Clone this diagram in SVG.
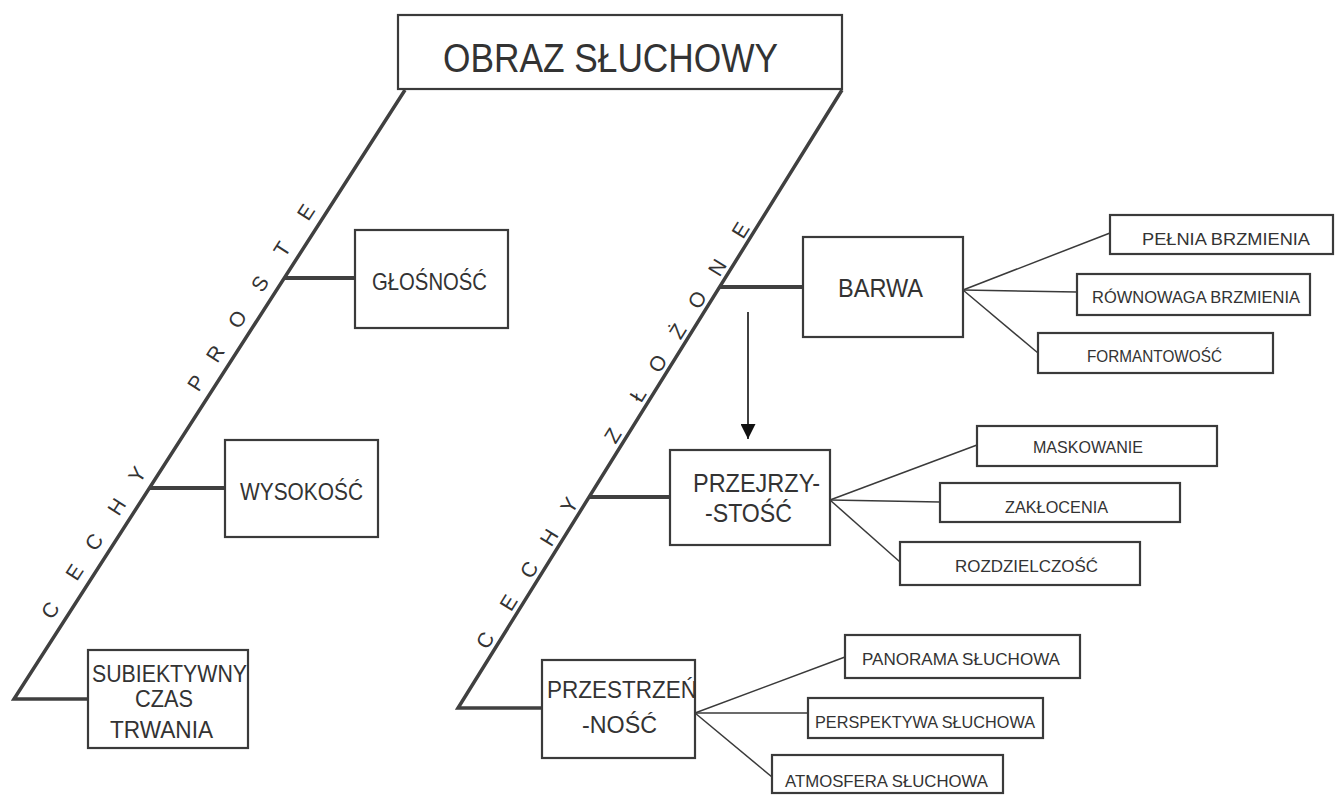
<svg xmlns="http://www.w3.org/2000/svg" width="1335" height="795" viewBox="0 0 1335 795">
<defs>
<style>
.box{fill:none;stroke:#3a3a3a;stroke-width:2.2}
.lbl{font-family:"Liberation Sans",Arial,sans-serif;fill:#333;text-anchor:middle}
.big{font-size:40px}
.mid{font-size:24px}
.sm{font-size:17px}
.diag{fill:none;stroke:#404040;stroke-width:3.5;stroke-linejoin:miter}
.stub{fill:none;stroke:#404040;stroke-width:4}
.fan{fill:none;stroke:#3a3a3a;stroke-width:1.5}
.arrow{fill:none;stroke:#111;stroke-width:1.6}
.dl{font-family:"Liberation Sans",Arial,sans-serif;font-size:21px;fill:#333;text-anchor:middle}
</style>
<marker id="ah" viewBox="0 0 14 14" refX="14" refY="7" markerWidth="15" markerHeight="15" markerUnits="userSpaceOnUse" orient="auto">
<path d="M0,0 L14,7 L0,14 z" fill="#111"/>
</marker>
</defs>
<rect width="1335" height="795" fill="#ffffff"/>

<g id="connectors">
<polyline class="diag" points="405,90 14,699 88,699"/>
<polyline class="diag" points="842,90 458,708 542,708"/>
<line class="stub" x1="284" y1="278" x2="355" y2="278"/>
<line class="stub" x1="149" y1="488" x2="225" y2="488"/>
<line class="stub" x1="720" y1="287" x2="803" y2="287"/>
<line class="stub" x1="590" y1="497" x2="670" y2="497"/>
<line class="arrow" x1="748" y1="312" x2="748" y2="439" marker-end="url(#ah)"/>
<line class="fan" x1="963" y1="290" x2="1110" y2="233"/>
<line class="fan" x1="963" y1="290" x2="1077" y2="292"/>
<line class="fan" x1="963" y1="290" x2="1038" y2="353"/>
<line class="fan" x1="830" y1="500" x2="977" y2="445"/>
<line class="fan" x1="830" y1="500" x2="940" y2="502"/>
<line class="fan" x1="830" y1="500" x2="900" y2="562"/>
<line class="fan" x1="695" y1="713" x2="845" y2="657"/>
<line class="fan" x1="695" y1="713" x2="808" y2="713"/>
<line class="fan" x1="695" y1="713" x2="772" y2="777"/>
</g>

<g id="diagonal-labels">
<text class="dl" transform="translate(50,610) rotate(-57.26)" x="0 45 81 123 161 270 305 346 388 429 473" y="7.5">CECHYPROSTE</text>
<text class="dl" transform="translate(485,640) rotate(-58.08)" x="0 44 83 121 159 241 289 326 364 401 439 483" y="7.5">CECHYZŁOŻONE</text>
</g>

<g id="obraz">
<rect class="box" x="398" y="15" width="444" height="74"/>
<text class="lbl big" x="610.5" y="72" textLength="335" lengthAdjust="spacingAndGlyphs">OBRAZ SŁUCHOWY</text>
</g>

<g id="glosnosc">
<rect class="box" x="355" y="230" width="153" height="98"/>
<text class="lbl mid" x="429.5" y="290" textLength="115" lengthAdjust="spacingAndGlyphs">GŁOŚNOŚĆ</text>
</g>

<g id="wysokosc">
<rect class="box" x="225" y="440" width="153" height="97"/>
<text class="lbl mid" x="301.5" y="500" textLength="123" lengthAdjust="spacingAndGlyphs">WYSOKOŚĆ</text>
</g>

<g id="subiektywny">
<rect class="box" x="88" y="650" width="160" height="98"/>
<text class="lbl mid" x="169.5" y="682" textLength="155" lengthAdjust="spacingAndGlyphs">SUBIEKTYWNY</text>
<text class="lbl mid" x="164" y="707" textLength="58" lengthAdjust="spacingAndGlyphs">CZAS</text>
<text class="lbl mid" x="161.5" y="738" textLength="103" lengthAdjust="spacingAndGlyphs">TRWANIA</text>
</g>

<g id="barwa">
<rect class="box" x="803" y="237" width="160" height="100"/>
<text class="lbl mid" x="880.5" y="297" textLength="85" lengthAdjust="spacingAndGlyphs" style="font-size:26px">BARWA</text>
</g>

<g id="przejrzystosc">
<rect class="box" x="670" y="450" width="160" height="95"/>
<text class="lbl mid" x="756.5" y="492" textLength="127" lengthAdjust="spacingAndGlyphs" style="font-size:26px">PRZEJRZY-</text>
<text class="lbl mid" x="748.5" y="522" textLength="87" lengthAdjust="spacingAndGlyphs" style="font-size:26px">-STOŚĆ</text>
</g>

<g id="przestrzennosc">
<rect class="box" x="542" y="660" width="153" height="98"/>
<text class="lbl mid" x="622" y="698" textLength="150" lengthAdjust="spacingAndGlyphs" style="font-size:23px">PRZESTRZEŃ</text>
<text class="lbl mid" x="619.5" y="733" textLength="75" lengthAdjust="spacingAndGlyphs" style="font-size:23px">-NOŚĆ</text>
</g>

<g id="pelnia">
<rect class="box" x="1110" y="215" width="223" height="39"/>
<text class="lbl sm" x="1226" y="245" textLength="168" lengthAdjust="spacingAndGlyphs">PEŁNIA BRZMIENIA</text>
</g>
<g id="rownowaga">
<rect class="box" x="1077" y="274" width="233" height="41"/>
<text class="lbl sm" x="1196" y="303" textLength="208" lengthAdjust="spacingAndGlyphs">RÓWNOWAGA BRZMIENIA</text>
</g>
<g id="formantowosc">
<rect class="box" x="1038" y="333" width="235" height="40"/>
<text class="lbl sm" x="1154.5" y="362" textLength="135" lengthAdjust="spacingAndGlyphs">FORMANTOWOŚĆ</text>
</g>
<g id="maskowanie">
<rect class="box" x="977" y="426" width="240" height="40"/>
<text class="lbl sm" x="1088" y="453" textLength="110" lengthAdjust="spacingAndGlyphs">MASKOWANIE</text>
</g>
<g id="zaklocenia">
<rect class="box" x="940" y="483" width="240" height="39"/>
<text class="lbl sm" x="1056.5" y="513" textLength="103" lengthAdjust="spacingAndGlyphs">ZAKŁOCENIA</text>
</g>
<g id="rozdzielczosc">
<rect class="box" x="900" y="542" width="240" height="43"/>
<text class="lbl sm" x="1026.5" y="572" textLength="143" lengthAdjust="spacingAndGlyphs">ROZDZIELCZOŚĆ</text>
</g>
<g id="panorama">
<rect class="box" x="845" y="635" width="235" height="43"/>
<text class="lbl sm" x="961" y="665" textLength="198" lengthAdjust="spacingAndGlyphs">PANORAMA SŁUCHOWA</text>
</g>
<g id="perspektywa">
<rect class="box" x="808" y="698" width="235" height="40"/>
<text class="lbl sm" x="925" y="728" textLength="220" lengthAdjust="spacingAndGlyphs">PERSPEKTYWA SŁUCHOWA</text>
</g>
<g id="atmosfera">
<rect class="box" x="772" y="755" width="231" height="38"/>
<text class="lbl sm" x="886.5" y="787" textLength="203" lengthAdjust="spacingAndGlyphs">ATMOSFERA SŁUCHOWA</text>
</g>
</svg>
